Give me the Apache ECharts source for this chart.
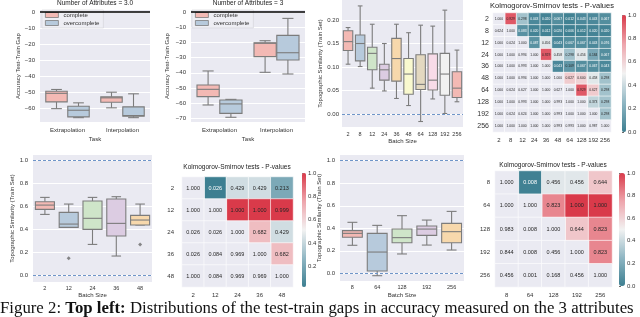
<!DOCTYPE html>
<html><head><meta charset="utf-8">
<script src="https://cdn.jsdelivr.net/npm/echarts@6/dist/echarts.min.js"></script>
<style>html,body{margin:0;padding:0;background:#fff}#c{width:640px;height:317px}</style>
</head><body><div id="c"></div>
<script>
// ---------- data ----------
const taskCats = ['Extrapolation', 'Interpolation'];
// box stats: [lowWhisker, Q1, median, Q3, highWhisker]
const gapA_complete = [[-60.0, -55.8, -50.5, -49.2, -48.1], [-59.5, -56.0, -53.3, -52.7, -49.8]];
const gapA_over     = [[-65.6, -65.1, -61.0, -58.5, -56.4], [-65.6, -64.7, -64.3, -58.9, -50.8]];
const gapB_complete = [[-61.2, -55.7, -50.9, -48.0, -38.8], [-39.7, -29.4, -20.6, -20.2, -18.9]];
const gapB_over     = [[-69.3, -66.7, -60.5, -57.9, -57.5], [-40.8, -31.6, -26.8, -15.4, -4.2]];
const gapTicksA = [0, -10, -20, -30, -40, -50, -60];
const gapTicksB = [0, -10, -20, -30, -40, -50, -60, -70];

const batchTop = ['2', '8', '12', '24', '36', '48', '64', '128', '192', '256'];
const simTop = [
  [0.106, 0.135, 0.154, 0.177, 0.184],
  [0.101, 0.113, 0.150, 0.168, 0.230],
  [0.055, 0.094, 0.129, 0.142, 0.191],
  [0.049, 0.072, 0.094, 0.106, 0.150],
  [0.033, 0.070, 0.118, 0.161, 0.191],
  [0.018, 0.042, 0.085, 0.118, 0.173],
  [-0.016, 0.052, 0.063, 0.126, 0.189],
  [0.032, 0.051, 0.072, 0.128, 0.187],
  [0.001, 0.040, 0.085, 0.129, 0.221],
  [0.026, 0.035, 0.055, 0.090, 0.136]
];
const simTopTicks = [0, 0.05, 0.10, 0.15, 0.20];

const batchB = ['2', '12', '24', '36', '48'];
const simB = [
  [0.533, 0.577, 0.614, 0.643, 0.681],
  [0.420, 0.420, 0.449, 0.551, 0.623],
  [0.272, 0.403, 0.499, 0.649, 0.681],
  [0.171, 0.345, 0.455, 0.667, 0.687],
  [0.441, 0.441, 0.484, 0.525, 0.623]
];
const fliersB = [[1, 0.151], [4, 0.272]];

const batchC = ['8', '64', '128', '192', '256'];
const simC = [
  [0.249, 0.320, 0.355, 0.379, 0.453],
  [-0.021, 0.021, 0.189, 0.355, 0.426],
  [0.172, 0.272, 0.317, 0.393, 0.512],
  [0.251, 0.337, 0.393, 0.420, 0.473],
  [0.207, 0.272, 0.370, 0.444, 0.550]
];
const simTicks = [0, 0.2, 0.4, 0.6, 0.8, 1.0];

const ksTop = [
  [1.000, 0.929, 0.298, 0.043, 0.020, 0.067, 0.012, 0.043, 0.043, 0.067],
  [0.624, 1.000, 0.083, 0.020, 0.012, 0.020, 0.006, 0.012, 0.020, 0.020],
  [1.000, 0.024, 1.000, 0.087, 0.456, 0.043, 0.067, 0.067, 0.043, 0.076],
  [1.000, 1.000, 0.994, 1.000, 0.929, 0.458, 0.298, 0.456, 0.184, 0.067],
  [1.000, 1.000, 0.993, 1.000, 1.000, 0.043, 0.109, 0.067, 0.067, 0.043],
  [1.000, 1.000, 0.994, 1.000, 1.000, 1.000, 0.627, 0.600, 0.458, 0.298],
  [1.000, 0.624, 0.627, 1.000, 1.000, 0.627, 1.000, 0.929, 0.627, 0.298],
  [1.000, 1.000, 0.993, 1.000, 1.000, 0.993, 1.000, 1.000, 0.373, 0.298],
  [1.000, 0.624, 0.624, 1.000, 1.000, 0.993, 1.000, 1.000, 1.000, 0.298],
  [1.000, 1.000, 1.000, 1.000, 1.000, 0.993, 0.993, 1.000, 0.987, 1.000]
];
const ksB = [
  [1.000, 0.026, 0.429, 0.429, 0.213],
  [1.000, 1.000, 1.000, 1.000, 0.999],
  [0.026, 0.026, 1.000, 0.682, 0.429],
  [0.026, 0.084, 0.969, 1.000, 0.682],
  [1.000, 0.084, 0.969, 0.969, 1.000]
];
const ksC = [
  [1.000, 0.008, 0.456, 0.456, 0.644],
  [1.000, 1.000, 0.823, 1.000, 1.000],
  [0.983, 0.008, 1.000, 0.644, 0.823],
  [0.844, 0.008, 0.456, 1.000, 0.823],
  [0.456, 0.001, 0.168, 0.456, 1.000]
];
const cbTicks = [0, 0.2, 0.4, 0.6, 0.8, 1.0];

// ---------- style ----------
const FONT = '"Liberation Sans", Arial, sans-serif';
const GREY = '#7c7c7c';
const BG = '#eaeaf2';
const TXT = '#333';
const PINK = '#f3b9b4', BLUE = '#b7cadc';
const PASTEL = ['#f3b9b4', '#b7cadc', '#cfe5c9', '#dccce2', '#f7d8ac', '#f9f9cf', '#e3d8c0', '#f8dbe8', '#f1f1f1'];
const DIV = ['#3d7f91', '#8fb6c3', '#f2f2f2', '#eea5ac', '#d93a4a'];
const minus = v => (v < 0 ? '\u2212' + Math.abs(v) : String(v));

function boxRender(colors, off, wf) {
  return function (params, api) {
    const i = api.value(0);
    const band = api.size([1, 0])[0];
    const cx = api.coord([i, 0])[0] + off * band;
    const w = wf * band;
    const y = k => api.coord([i, api.value(k)])[1];
    const lo = y(1), q1 = y(2), md = y(3), q3 = y(4), hi = y(5);
    const st = { stroke: GREY, lineWidth: 1.1, fill: null };
    const c = colors[params.dataIndex % colors.length];
    return { type: 'group', children: [
      { type: 'line', shape: { x1: cx, y1: q1, x2: cx, y2: lo }, style: st },
      { type: 'line', shape: { x1: cx, y1: q3, x2: cx, y2: hi }, style: st },
      { type: 'line', shape: { x1: cx - w / 4, y1: lo, x2: cx + w / 4, y2: lo }, style: st },
      { type: 'line', shape: { x1: cx - w / 4, y1: hi, x2: cx + w / 4, y2: hi }, style: st },
      { type: 'rect', shape: { x: cx - w / 2, y: q3, width: w, height: q1 - q3 }, style: { fill: c, stroke: GREY, lineWidth: 1.1 } },
      { type: 'line', shape: { x1: cx - w / 2, y1: md, x2: cx + w / 2, y2: md }, style: st }
    ] };
  };
}
function boxSeries(name, g, stats, colors, off, wf) {
  return { type: 'custom', name, xAxisIndex: g, yAxisIndex: g, renderItem: boxRender(colors, off, wf),
    data: stats.map((s, i) => [i].concat(s)), encode: { x: 0, y: [1, 2, 3, 4, 5] },
    itemStyle: { color: colors[0] }, z: 3, silent: true };
}
function hLines(g, vals, color, type, width) {
  return { type: 'line', xAxisIndex: g, yAxisIndex: g, data: [], silent: true, z: 2,
    markLine: { silent: true, symbol: 'none', label: { show: false }, animation: false,
      lineStyle: { color, type, width }, data: vals.map(v => ({ yAxis: v })) } };
}
function catAxis(g, data, name, nameGap, margin, fs) {
  return { type: 'category', gridIndex: g, data, axisLine: { show: false }, axisTick: { show: false },
    axisLabel: { fontSize: fs || 6, color: TXT, margin, fontFamily: FONT, interval: 0 },
    splitLine: { show: false }, name, nameLocation: 'middle', nameGap,
    nameTextStyle: { fontSize: 6, color: TXT, fontFamily: FONT } };
}
function valAxis(g, min, max, ticks, fmt, name, nameGap, margin) {
  return { type: 'value', gridIndex: g, min, max, axisLine: { show: false },
    axisTick: { show: false, customValues: ticks },
    axisLabel: { customValues: ticks, formatter: fmt, fontSize: 6, color: TXT, margin, fontFamily: FONT },
    splitLine: { show: true, lineStyle: { color: '#fff', width: 1 } },
    name, nameLocation: 'middle', nameGap, nameTextStyle: { fontSize: 6, color: TXT, fontFamily: FONT } };
}
function heatCatX(g, data, margin, fs) {
  return { type: 'category', gridIndex: g, data, axisLine: { show: false }, axisTick: { show: false },
    splitArea: { show: false }, axisLabel: { fontSize: fs, color: TXT, margin, fontFamily: FONT, interval: 0 } };
}
function heatCatY(g, data, margin, fs) {
  return { type: 'category', gridIndex: g, data, inverse: true, axisLine: { show: false }, axisTick: { show: false },
    splitArea: { show: false }, axisLabel: { fontSize: fs, color: TXT, margin, fontFamily: FONT, interval: 0 } };
}
function heatPair(mat, g, vmin, vmax, fs) {
  const colored = [], masked = [];
  mat.forEach((row, i) => row.forEach((v, j) => {
    if (j > i) {
      const t = (v - vmin) / (vmax - vmin);
      colored.push({ value: [j, i, v], label: { color: t < 0.09 ? '#fff' : '#262626' } });
    } else masked.push([j, i, v]);
  }));
  const common = { type: 'heatmap', xAxisIndex: g, yAxisIndex: g, silent: true, emphasis: { disabled: true },
    label: { show: true, fontSize: fs, fontFamily: FONT, color: '#262626', formatter: p => p.value[2].toFixed(3) } };
  return [
    Object.assign({}, common, { data: colored, itemStyle: { borderColor: '#fff', borderWidth: 0.6 } }),
    Object.assign({}, common, { data: masked, itemStyle: { color: BG, borderColor: '#fff', borderWidth: 0.6 } })
  ];
}
function cbAxisX(g) { return { type: 'value', gridIndex: g, show: false, min: 0, max: 1 }; }
function cbAxisY(g, min, max) {
  return { type: 'value', gridIndex: g, position: 'right', min, max, axisLine: { show: false },
    axisTick: { show: true, length: 2, customValues: cbTicks, lineStyle: { color: '#444', width: 0.8 } },
    axisLabel: { customValues: cbTicks, formatter: v => v.toFixed(1), fontSize: 6, color: TXT, margin: 2, fontFamily: FONT },
    splitLine: { show: false } };
}

const grids = [
  { left: 40, top: 10, width: 110, height: 112 },   // 0 gap A
  { left: 191, top: 10, width: 114, height: 112 },  // 1 gap B
  { left: 342, top: 0, width: 121, height: 127 },   // 2 sim top
  { left: 493, top: 13, width: 118, height: 119 },  // 3 heat top
  { left: 33, top: 155, width: 119, height: 127 },  // 4 sim B
  { left: 182, top: 177, width: 111, height: 110 }, // 5 heat B
  { left: 340, top: 155, width: 124, height: 126 }, // 6 sim C
  { left: 495, top: 171, width: 117, height: 116 }, // 7 heat C
  { left: 622, top: 15, width: 4, height: 117 },    // 8 cb top
  { left: 302, top: 173, width: 4, height: 114 },   // 9 cb B
  { left: 619, top: 173, width: 6, height: 113 }    // 10 cb C
].map((g, i) => Object.assign({ show: [0, 1, 2, 4, 6].includes(i), backgroundColor: BG, borderWidth: 0 }, g));

const xAxis = [
  catAxis(0, taskCats, 'Task', 14, 5, 6),
  catAxis(1, taskCats, 'Task', 14, 5, 6),
  catAxis(2, batchTop, 'Batch Size', 11, 4, 5.5),
  heatCatX(3, batchTop, 5, 6),
  catAxis(4, batchB, 'Batch Size', 10, 3, 5.5),
  heatCatX(5, batchB, 5, 6),
  catAxis(6, batchC, 'Batch Size', 11, 3, 5.5),
  heatCatX(7, batchC, 5, 6),
  cbAxisX(8), cbAxisX(9), cbAxisX(10)
];
const f2 = v => v.toFixed(2), f1 = v => v.toFixed(1);
const yAxis = [
  valAxis(0, -68.3, 1.25, gapTicksA, minus, 'Accuracy Test-Train Gap', 18, 5),
  valAxis(1, -72.4, 1.32, gapTicksB, minus, 'Accuracy Test-Train Gap', 21, 5),
  valAxis(2, -0.0277, 0.2426, simTopTicks, f2, 'Topographic Similarity (Train Set)', 16, 3),
  heatCatY(3, batchTop, 4, 7),
  valAxis(4, -0.0548, 1.0496, simTicks, f1, 'Topographic Similarity (Train Set)', 18, 5),
  heatCatY(5, batchB, 8, 6),
  valAxis(6, -0.068, 1.0506, simTicks, f1, 'Topographic Similarity (Train Set)', 14, 5),
  heatCatY(7, batchC, 5, 6),
  cbAxisY(8, 0, 1), cbAxisY(9, 0.026, 1), cbAxisY(10, 0, 1)
];

const series = [];
series.push(hLines(0, [0], '#000', 'solid', 1.5));
series.push(hLines(1, [0], '#000', 'solid', 1.5));
series.push(boxSeries('complete', 0, gapA_complete, [PINK], -0.2, 0.39));
series.push(boxSeries('overcomplete', 0, gapA_over, [BLUE], 0.2, 0.39));
series.push(boxSeries('complete', 1, gapB_complete, [PINK], -0.2, 0.39));
series.push(boxSeries('overcomplete', 1, gapB_over, [BLUE], 0.2, 0.39));
series.push(hLines(2, [0], '#6f95c8', [3, 2], 1));
series.push(boxSeries('simTop', 2, simTop, PASTEL, 0, 0.78));
series.push(hLines(4, [0, 1], '#6f95c8', [3, 2], 1));
series.push(boxSeries('simB', 4, simB, PASTEL, 0, 0.8));
series.push({ type: 'scatter', xAxisIndex: 4, yAxisIndex: 4, data: fliersB, symbol: 'diamond', symbolSize: 4,
  itemStyle: { color: '#6a6a6a' }, silent: true, z: 4 });
series.push(hLines(6, [0, 1], '#6f95c8', [3, 2], 1));
series.push(boxSeries('simC', 6, simC, PASTEL, 0, 0.8));
const hmTopIdx = series.length; series.push(...heatPair(ksTop, 3, 0, 1, 3.3));
const hmBIdx = series.length; series.push(...heatPair(ksB, 5, 0.026, 1, 5.5));
const hmCIdx = series.length; series.push(...heatPair(ksC, 7, 0, 1, 5.5));

function vm(idx, min, max, g) {
  return { type: 'continuous', seriesIndex: idx, min, max, calculable: false, hoverLink: false,
    itemWidth: g.width, itemHeight: g.height, left: g.left, top: g.top, padding: 0,
    inRange: { color: DIV }, textStyle: { fontSize: 1, color: 'rgba(0,0,0,0)' } };
}

const legendData = [
  { name: 'complete', icon: 'rect', itemStyle: { color: PINK, borderColor: GREY, borderWidth: 0.8 } },
  { name: 'overcomplete', icon: 'rect', itemStyle: { color: BLUE, borderColor: GREY, borderWidth: 0.8 } }
];
function legendAt(left) {
  return { left, top: 10, orient: 'vertical', itemWidth: 13, itemHeight: 5, itemGap: 2, padding: [2, 4, 2, 3],
    backgroundColor: '#eeeef4', borderColor: '#d4d4d8', borderWidth: 0.6, selectedMode: false,
    textStyle: { fontSize: 6, color: TXT, fontFamily: FONT }, data: legendData };
}

function txt(x, y, text, size) {
  return { type: 'text', x, y, silent: true, z: 10,
    style: { text, fontSize: size, fontFamily: FONT, fill: '#222', align: 'center', verticalAlign: 'middle',
      textAlign: 'center', textVerticalAlign: 'middle' } };
}
const ksTitle = 'Kolmogorov-Smirnov tests - P-values';
const captionNormal1 = 'Figure 2: ', captionBold = 'Top left:',
      captionNormal2 = ' Distributions of the test-train gaps in accuracy measured on the 3 attributes';
const graphic = [
  txt(95, 3, 'Number of Attributes = 3.0', 6.5),
  txt(248, 3, 'Number of Attributes = 3', 6.5),
  txt(552, 6, ksTitle, 7.5),
  txt(237, 167, ksTitle, 6.5),
  txt(553, 165, ksTitle, 6.5),
  { type: 'text', x: 0, y: 300, silent: true, z: 10,
    style: { text: '{n|' + captionNormal1 + '}{b|' + captionBold + '}{n|' + captionNormal2 + '}',
      rich: { n: { fontSize: 16.8, fontFamily: '"Liberation Serif", serif', fill: '#111' },
              b: { fontSize: 16.8, fontFamily: '"Liberation Serif", serif', fontWeight: 'bold', fill: '#111' } } } }
];

const chart = echarts.init(document.getElementById('c'), null, { renderer: 'canvas' });
chart.setOption({
  animation: false,
  backgroundColor: '#fff',
  grid: grids, xAxis, yAxis, series,
  visualMap: [vm(hmTopIdx, 0, 1, grids[8]), vm(hmBIdx, 0.026, 1, grids[9]), vm(hmCIdx, 0, 1, grids[10])],
  legend: [legendAt(42), legendAt(192)],
  graphic
});
</script></body></html>
